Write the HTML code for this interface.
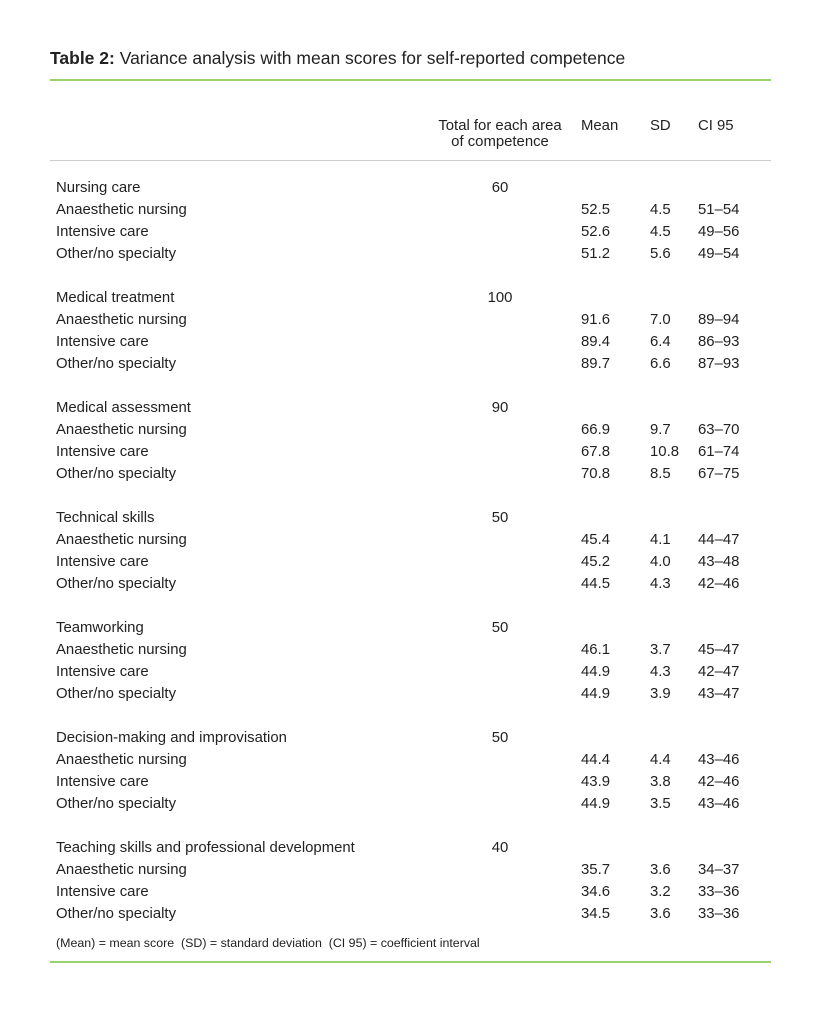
<!DOCTYPE html>
<html><head><meta charset="utf-8">
<style>
body{margin:0;width:821px;height:1024px;background:#fff;position:relative;font-family:"Liberation Sans",sans-serif;color:#222;}
.t{position:absolute;font-size:14.9px;line-height:18px;white-space:nowrap;}
.c{text-align:center;}
.line{position:absolute;left:50px;width:721px;}
</style></head><body>
<div class="t" style="left:50px;top:48px;font-size:17.5px;line-height:20px;"><b>Table 2:</b> Variance analysis with mean scores for self-reported competence</div>
<div class="line" style="top:79px;height:2px;background:#9ad36e"></div>
<div class="t c" style="left:413px;width:174px;top:117px;">Total for each area</div>
<div class="t c" style="left:413px;width:174px;top:133px;">of competence</div>
<div class="t" style="left:581px;top:117px;">Mean</div>
<div class="t" style="left:650px;top:117px;">SD</div>
<div class="t" style="left:698px;top:117px;">CI 95</div>
<div class="line" style="top:160px;height:1px;background:#ccc"></div>
<div id="rows"></div>
<div class="t" style="left:56px;top:934px;font-size:12.4px;">(Mean) = mean score&nbsp; (SD) = standard deviation&nbsp; (CI 95) = coefficient interval</div>
<div class="line" style="top:961px;height:2px;background:#9ad36e"></div>
<script>
var g=[["Nursing care","60",[["52.5","4.5","51–54"],["52.6","4.5","49–56"],["51.2","5.6","49–54"]]],
["Medical treatment","100",[["91.6","7.0","89–94"],["89.4","6.4","86–93"],["89.7","6.6","87–93"]]],
["Medical assessment","90",[["66.9","9.7","63–70"],["67.8","10.8","61–74"],["70.8","8.5","67–75"]]],
["Technical skills","50",[["45.4","4.1","44–47"],["45.2","4.0","43–48"],["44.5","4.3","42–46"]]],
["Teamworking","50",[["46.1","3.7","45–47"],["44.9","4.3","42–47"],["44.9","3.9","43–47"]]],
["Decision-making and improvisation","50",[["44.4","4.4","43–46"],["43.9","3.8","42–46"],["44.9","3.5","43–46"]]],
["Teaching skills and professional development","40",[["35.7","3.6","34–37"],["34.6","3.2","33–36"],["34.5","3.6","33–36"]]]];
var n=["Anaesthetic nursing","Intensive care","Other/no specialty"];
var h="";
function d(x,y,s,ex){h+='<div class="t" style="left:'+x+'px;top:'+(y-9)+'px;'+(ex||'')+'">'+s+'</div>';}
g.forEach(function(r,i){var y=188+110*i;d(56,y,r[0]);d(460,y,r[1],'width:80px;text-align:center;');
r[2].forEach(function(v,j){var yy=y+22*(j+1);d(56,yy,n[j]);d(581,yy,v[0]);d(650,yy,v[1]);d(698,yy,v[2]);});});
document.getElementById("rows").innerHTML=h;
</script>
</body></html>
